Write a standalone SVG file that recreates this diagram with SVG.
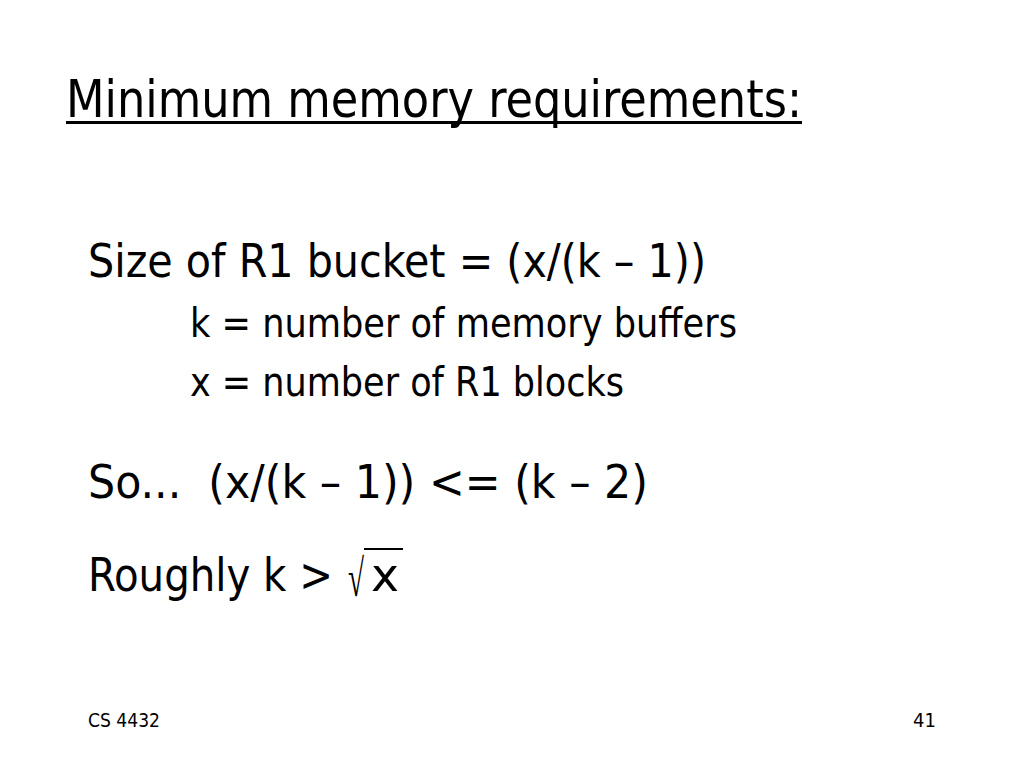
<svg xmlns="http://www.w3.org/2000/svg" width="1024" height="768" viewBox="0 0 1024 768">
<style>
text{font-family:"DejaVu Sans Condensed","DejaVu Sans","Liberation Sans",sans-serif;fill:#000}
.t{font-size:52px}
.b{font-size:46px}
.s{font-size:41px}
.f{font-size:20px}
.rad{font-family:"Liberation Serif","DejaVu Serif",serif;font-size:52px}
</style>
<rect width="1024" height="768" fill="#fff"/>
<g id="title">
<text class="t" x="66" y="117" textLength="736" lengthAdjust="spacingAndGlyphs">Minimum memory requirements:</text>
<rect x="66" y="121" width="736" height="3" fill="#000"/>
</g>
<g id="body">
<text class="b" x="88" y="277" textLength="618" lengthAdjust="spacingAndGlyphs">Size of R1 bucket = (x/(k – 1))</text>
<text class="s" x="190" y="337" textLength="547" lengthAdjust="spacingAndGlyphs">k = number of memory buffers</text>
<text class="s" x="190" y="396" textLength="434" lengthAdjust="spacingAndGlyphs">x = number of R1 blocks</text>
<text class="b" x="88" y="498" textLength="560" lengthAdjust="spacingAndGlyphs" xml:space="preserve">So...  (x/(k – 1)) &lt;= (k – 2)</text>
<text class="b" x="88" y="591" textLength="245" lengthAdjust="spacingAndGlyphs">Roughly k &gt;</text>
<text class="rad" x="348" y="596" textLength="16" lengthAdjust="spacingAndGlyphs">√</text>
<rect x="364" y="548" width="39" height="2" fill="#000"/>
<text class="b" x="371" y="591" textLength="28" lengthAdjust="spacingAndGlyphs">x</text>
</g>
<g id="footer">
<text class="f" x="88" y="727" textLength="72" lengthAdjust="spacingAndGlyphs">CS 4432</text>
<text class="f" x="936" y="727" text-anchor="end">41</text>
</g>
</svg>
